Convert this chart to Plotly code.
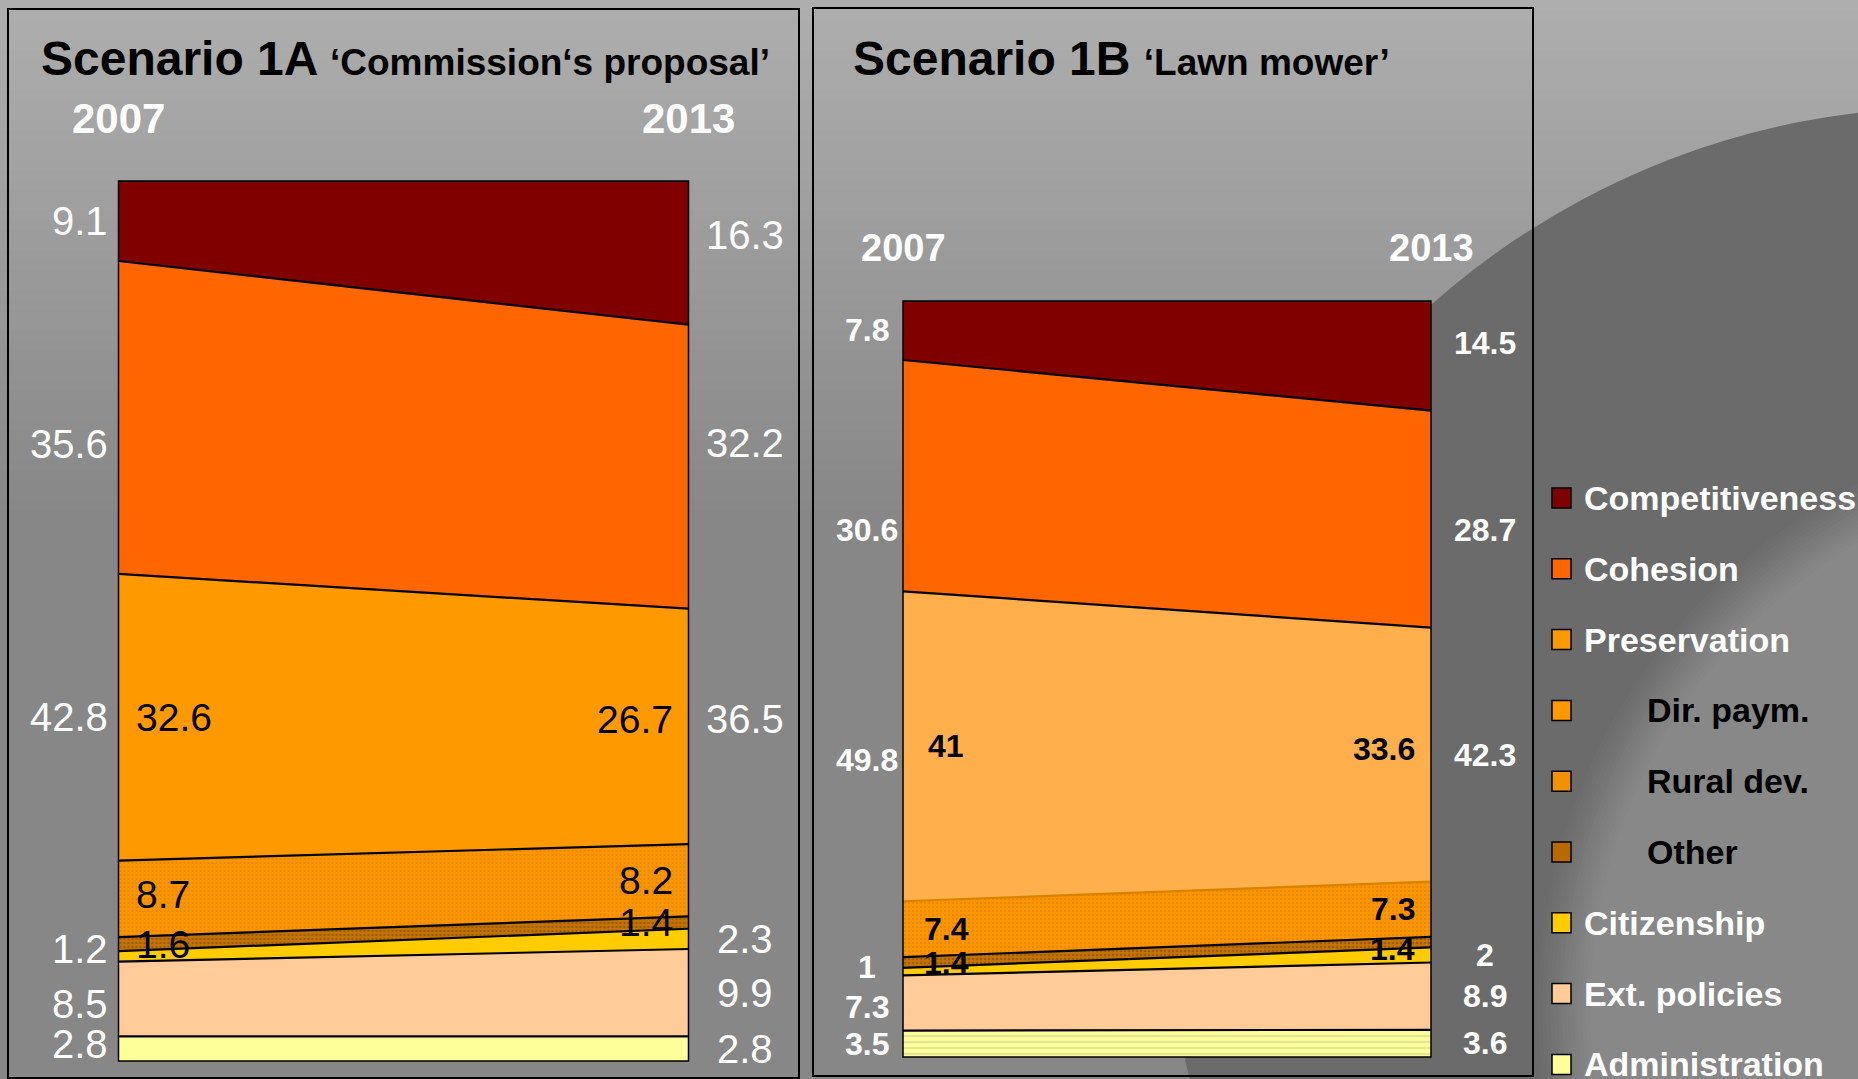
import plotly.graph_objects as go

W, H = 1858, 1079

# ---------------- data ----------------
YEARS = ["2007", "2013"]
CATEGORIES = ["Administration", "Ext. policies", "Citizenship", "Other",
              "Rural dev.", "Dir. paym.", "Cohesion", "Competitiveness"]
A_2007 = [2.8, 8.5, 1.2, 1.6, 8.7, 32.6, 35.6, 9.1]
A_2013 = [2.8, 9.9, 2.3, 1.4, 8.2, 26.7, 32.2, 16.3]
A_PRESERVATION = [42.8, 36.5]
B_2007 = [3.5, 7.3, 1.0, 1.4, 7.4, 41.0, 30.6, 7.8]
B_2013 = [3.6, 8.9, 2.0, 1.4, 7.3, 33.6, 28.7, 14.5]
B_PRESERVATION = [49.8, 42.3]
TITLES = [("Scenario 1A", "‘Commission‘s proposal’"), ("Scenario 1B", "‘Lawn mower’")]
LEGEND_ORDER = ["Competitiveness", "Cohesion", "Preservation", "Dir. paym.", "Rural dev.",
                "Other", "Citizenship", "Ext. policies", "Administration"]
SUB_ITEMS = ["Dir. paym.", "Rural dev.", "Other"]

# ---------------- styles ----------------
FONT = "Arial, 'Liberation Sans', sans-serif"
STYLE_A = {
    "Administration": dict(fill="#FFFF99"),
    "Ext. policies": dict(fill="#FFCC99"),
    "Citizenship": dict(fill="#FFCC00"),
    "Other": dict(fill="#C07000", pattern=dict(shape=".", bgcolor="#C47400", fgcolor="#7A4600", size=4, solidity=0.35)),
    "Rural dev.": dict(fill="#FF9900", pattern=dict(shape=".", bgcolor="#FC9600", fgcolor="#D27E00", size=4, solidity=0.3)),
    "Dir. paym.": dict(fill="#FF9900"),
    "Cohesion": dict(fill="#FF6600"),
    "Competitiveness": dict(fill="#800000"),
}
STYLE_B = dict(STYLE_A)
STYLE_B["Administration"] = dict(fill="#F2F2A0", pattern=dict(shape="-", bgcolor="#FFFF99", fgcolor="#C8CC96", size=6, solidity=0.4))
STYLE_B["Dir. paym."] = dict(fill="#FFAF4B")
STYLE_B["Rural dev."] = dict(STYLE_A["Rural dev."], line="#D98200")
LEGEND_COLORS = {"Competitiveness": "#800000", "Cohesion": "#FF6600", "Preservation": "#FF9900",
                 "Dir. paym.": "#FF9900", "Rural dev.": "#F39200", "Other": "#B86A00",
                 "Citizenship": "#FFCC00", "Ext. policies": "#FFCC99", "Administration": "#FFFF99"}

OUTER = ["Administration", "Ext. policies", "Citizenship", "Cohesion", "Competitiveness"]
INNER = ["Dir. paym.", "Rural dev.", "Other"]

CHARTS = [
    dict(v=(A_2007, A_2013), pres=A_PRESERVATION, style=STYLE_A, xa="x", ya="y",
         xdom=(118.5, 688.5), ydom=(181, 1061), year_shift=62, year_size=42,
         outer=dict(size=40, bold=False, left=("right", -8), right=("center", 56)),
         inner=dict(size=39, bold=False, left=("left", 15), right=("right", -14)),
         nudge={("Cohesion", 0): -3, ("Cohesion", 1): 2.7, ("Competitiveness", 1): 2,
                ("Citizenship", 0): 0.8, ("Ext. policies", 0): -0.6, ("Administration", 0): 0.5,
                ("Preservation", 1): 0.8, ("Dir. paym.", 1): 0.8, ("Rural dev.", 0): 0.5},
         title_x=39),
    dict(v=(B_2007, B_2013), pres=B_PRESERVATION, style=STYLE_B, xa="x2", ya="y2",
         xdom=(903, 1431), ydom=(301, 1057), year_shift=53, year_size=38,
         outer=dict(size=32, bold=True, left=("center", -36), right=("center", 54)),
         inner=dict(size=32, bold=True, left=("center", 43), right=("right", -14)),
         nudge={("Cohesion", 0): -7.2, ("Cohesion", 1): -1.5, ("Competitiveness", 1): 1.7,
                ("Preservation", 0): -1.8, ("Other", 1): -0.9, ("Citizenship", 0): 0.6,
                ("Ext. policies", 0): -0.6, ("Dir. paym.", 1): 0.8},
         title_x=851),
]


def px_x(px):
    return px / W


def px_y(py):
    return 1 - py / H


fig = go.Figure()
shapes = []
annotations = []

# background gradient (top light grey -> mid grey)
top_c, bot_c = 0xAE, 0x87
steps = 52
for i in range(steps):
    t = i / (steps - 1)
    c = round(top_c + (bot_c - top_c) * t)
    shapes.append(dict(type="rect", xref="paper", yref="paper", x0=0, x1=1,
                       y0=px_y((i + 1) * 10 + 1), y1=px_y(i * 10),
                       fillcolor=f"rgb({c},{c},{c})", line=dict(width=0), layer="below"))


def circle(cx, cy, r, color):
    return dict(type="circle", xref="paper", yref="paper",
                x0=px_x(cx - r), x1=px_x(cx + r), y0=px_y(cy + r), y1=px_y(cy - r),
                fillcolor=color, line=dict(width=0), layer="below")


shapes.append(circle(1952, 892, 785, "#6B6B6B"))
n_rings = 14
for k in range(n_rings):
    r = 590 - k * 4
    c = round(0x6B + (0x88 - 0x6B) * (k + 1) / n_rings)
    shapes.append(circle(2128, 1008, r, f"rgb({c},{c},{c})"))

# panel frames
for (x0, y0, x1, y1) in [(8, 9, 799, 1078), (813, 8, 1533, 1076)]:
    shapes.append(dict(type="rect", xref="paper", yref="paper", x0=px_x(x0), x1=px_x(x1),
                       y0=px_y(y1), y1=px_y(y0), line=dict(color="black", width=2),
                       fillcolor="rgba(0,0,0,0)", layer="below"))


def fmt(v):
    return f"{v:g}"


for ci, ch in enumerate(CHARTS):
    grp = f"g{ci}"
    v07, v13 = ch["v"]
    for i, cat in enumerate(CATEGORIES):
        st = ch["style"][cat]
        kw = dict(x=[0, 1], y=[v07[i], v13[i]], stackgroup=grp, mode="lines",
                  line=dict(color=st.get("line", "black"), width=2.2),
                  fillcolor=st["fill"], name=cat, showlegend=False, hoverinfo="skip",
                  xaxis=ch["xa"], yaxis=ch["ya"])
        if i == 0:
            kw["groupnorm"] = "percent"
        if "pattern" in st:
            kw["fillpattern"] = st["pattern"]
        fig.add_trace(go.Scatter(**kw))

    # label positions from normalised stack
    mids = []
    for vals in (v07, v13):
        tot = sum(vals)
        cum = 0
        m = {}
        for cat, v in zip(CATEGORIES, vals):
            n = v / tot * 100
            m[cat] = cum + n / 2
            cum += n
        mids.append(m)

    xr, yr = ch["xa"], ch["ya"]
    for j, vals in enumerate((v07, v13)):
        side = "left" if j == 0 else "right"
        items = []
        for cat in OUTER:
            items.append((cat, vals[CATEGORIES.index(cat)], mids[j][cat], "outer"))
        items.append(("Preservation", ch["pres"][j], mids[j]["Dir. paym."], "outer"))
        for cat in INNER:
            items.append((cat, vals[CATEGORIES.index(cat)], mids[j][cat], "inner"))
        for cat, val, ymid, kind in items:
            cfg = ch[kind]
            anchor, shift = cfg[side]
            txt = fmt(val)
            if cfg["bold"]:
                txt = f"<b>{txt}</b>"
            annotations.append(dict(
                xref=xr, yref=yr, x=j, y=ymid + ch["nudge"].get((cat, j), 0),
                text=txt, showarrow=False, xanchor=anchor, yanchor="middle", xshift=shift,
                font=dict(family=FONT, size=cfg["size"], color="white" if kind == "outer" else "black")))

    # year labels
    for j, yr_txt in enumerate(YEARS):
        annotations.append(dict(xref=xr, yref=f"{yr} domain", x=j, y=1, yshift=ch["year_shift"],
                                text=f"<b>{yr_txt}</b>", showarrow=False, xanchor="center", yanchor="middle",
                                font=dict(family=FONT, size=ch["year_size"], color="white")))
    # chart frame
    shapes.append(dict(type="rect", xref=f"{xr} domain", yref=f"{yr} domain", x0=0, x1=1, y0=0, y1=1,
                       line=dict(color="black", width=1.5), layer="above"))
    # title
    t1, t2 = TITLES[ci]
    annotations.append(dict(xref="paper", yref="paper", x=px_x(ch["title_x"]), y=px_y(58),
                            xanchor="left", yanchor="middle", showarrow=False,
                            text=f"<b>{t1} <span style='font-size:37px'>{t2}</span></b>",
                            font=dict(family=FONT, size=48, color="black")))

# legend (drawn manually)
for k, name in enumerate(LEGEND_ORDER):
    yc = 498 + k * 70.8
    shapes.append(dict(type="rect", xref="paper", yref="paper", x0=px_x(1552), x1=px_x(1571),
                       y0=px_y(yc + 10), y1=px_y(yc - 10), fillcolor=LEGEND_COLORS[name],
                       line=dict(color="black", width=1.5), layer="above"))
    sub = name in SUB_ITEMS
    annotations.append(dict(xref="paper", yref="paper", x=px_x(1645 if sub else 1582), y=px_y(yc),
                            xanchor="left", yanchor="middle", showarrow=False,
                            text=f"<b>{name}</b>",
                            font=dict(family=FONT, size=34, color="black" if sub else "white")))

axis_common = dict(range=[0, 1], showgrid=False, zeroline=False, showticklabels=False,
                   showline=False, ticks="", fixedrange=True)
yaxis_common = dict(range=[0, 100], showgrid=False, zeroline=False, showticklabels=False,
                    showline=False, ticks="", fixedrange=True)

c0, c1 = CHARTS
fig.update_layout(
    width=W, height=H, margin=dict(l=0, r=0, t=0, b=0, pad=0),
    paper_bgcolor="#878787", plot_bgcolor="rgba(0,0,0,0)",
    xaxis=dict(domain=[px_x(c0["xdom"][0]), px_x(c0["xdom"][1])], anchor="y", **axis_common),
    yaxis=dict(domain=[px_y(c0["ydom"][1]), px_y(c0["ydom"][0])], anchor="x", **yaxis_common),
    xaxis2=dict(domain=[px_x(c1["xdom"][0]), px_x(c1["xdom"][1])], anchor="y2", **axis_common),
    yaxis2=dict(domain=[px_y(c1["ydom"][1]), px_y(c1["ydom"][0])], anchor="x2", **yaxis_common),
    shapes=shapes, annotations=annotations, showlegend=False,
)

fig.write_html("out.html", config={"displayModeBar": False},
               post_script="document.body.style.margin='0px';document.body.style.overflow='hidden';")
